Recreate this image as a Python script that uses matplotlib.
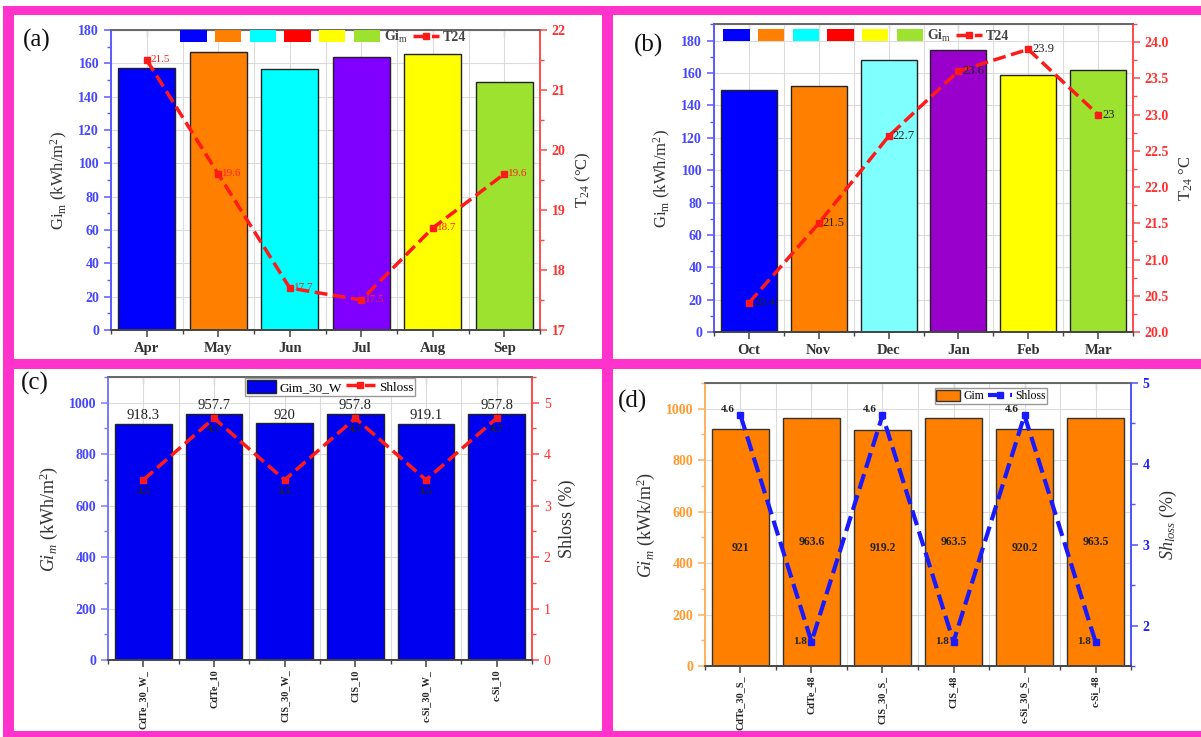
import matplotlib.pyplot as plt
from matplotlib.patches import Patch, Rectangle
from matplotlib.lines import Line2D
from matplotlib.ticker import MultipleLocator, FormatStrFormatter

plt.rcParams['font.family'] = 'Liberation Serif'
plt.rcParams['mathtext.fontset'] = 'custom'
plt.rcParams['mathtext.rm'] = 'Liberation Serif'
plt.rcParams['mathtext.it'] = 'Liberation Serif:italic'
plt.rcParams['mathtext.bf'] = 'Liberation Serif:bold'

# monthly irradiation and temperature, summer half
months_a = ['Apr', 'May', 'Jun', 'Jul', 'Aug', 'Sep']
gim_a = [156.9, 166.5, 156.3, 163.5, 165.7, 148.5]
t24_a = [21.5, 19.6, 17.7, 17.5, 18.7, 19.6]

# winter half
months_b = ['Oct', 'Nov', 'Dec', 'Jan', 'Feb', 'Mar']
gim_b = [149.5, 151.8, 168.0, 174.0, 158.8, 162.0]
t24_b = [20.4, 21.5, 22.7, 23.6, 23.9, 23.0]

# module comparison, W orientation
modules_c = ['CdTe_30_W_', 'CdTe_10', 'CIS_30_W_', 'CIS_10', 'c-Si_30_W_', 'c-Si_10']
gim_c = [918.3, 957.7, 920, 957.8, 919.1, 957.8]
shloss_c = [3.5, 4.7, 3.5, 4.7, 3.5, 4.7]

# module comparison, S orientation
modules_d = ['CdTe_30_S_', 'CdTe_48', 'CIS_30_S_', 'CIS_48', 'c-Si_30_S_', 'c-Si_48']
gim_d = [921, 963.6, 919.2, 963.5, 920.2, 963.5]
shloss_d = [4.6, 1.8, 4.6, 1.8, 4.6, 1.8]

colors_a = ['#0000ff', '#ff8000', '#00ffff', '#8000ff', '#ffff00', '#9de22f']
colors_b = ['#0000ff', '#ff8000', '#80ffff', '#9900cc', '#ffff00', '#9de22f']
legend_colors = ['#0000ff', '#ff8000', '#00ffff', '#ff0000', '#ffff00', '#9de22f']

W, H = 1201, 737
fig = plt.figure(figsize=(W / 100, H / 100), dpi=100)


def box(l, t, r, b):
    return [l / W, 1 - b / H, (r - l) / W, (b - t) / H]


def make_axes(rect, lcol, rcol, lspine, rspine):
    ax = fig.add_axes(rect)
    ax2 = ax.twinx()
    ax.set_axisbelow(True)
    ax.set_xlim(-0.5, 5.5)
    ax.set_xticks(range(6))
    ax.xaxis.set_minor_locator(MultipleLocator(0.5))
    ax.grid(True, which='major', color='#dcdcdc', lw=0.8)
    ax.grid(True, which='minor', axis='x', color='#dcdcdc', lw=0.8)
    for a in (ax, ax2):
        a.spines['left'].set_color(lspine)
        a.spines['right'].set_color(rspine)
        a.spines['top'].set_color('#666666')
        a.spines['bottom'].set_color('#444444')
        for s in a.spines.values():
            s.set_linewidth(1.2)
    ax.tick_params(axis='y', which='both', colors=lcol, direction='out')
    ax.tick_params(axis='y', which='major', length=5, width=1.1)
    ax.tick_params(axis='y', which='minor', length=3, width=1)
    ax.tick_params(axis='y', color=lspine, which='both')
    ax2.tick_params(axis='y', which='both', colors=rcol, direction='out')
    ax2.tick_params(axis='y', which='major', length=5, width=1.1)
    ax2.tick_params(axis='y', which='minor', length=3, width=1)
    ax2.tick_params(axis='y', color=rspine, which='both')
    ax.tick_params(axis='x', which='major', length=5, width=1.1, color='#444444')
    ax.tick_params(axis='x', which='minor', length=3, width=1, color='#444444')
    top = ax.secondary_xaxis('top')
    top.set_xticks(range(6))
    top.xaxis.set_minor_locator(MultipleLocator(0.5))
    top.tick_params(which='both', direction='in', labeltop=False, color='#444444')
    top.tick_params(which='major', length=5)
    top.tick_params(which='minor', length=3)
    top.spines['top'].set_color('#666666')
    return ax, ax2


def bold_ticks(ax, ax2):
    plt.setp(ax.get_yticklabels(), fontweight='bold')
    plt.setp(ax2.get_yticklabels(), fontweight='bold')
    plt.setp(ax.get_xticklabels(), fontweight='bold')


# ---- (a) ----
ax, ax2 = make_axes(box(111, 30, 540, 330), '#4646ff', '#ff3030', '#5a5aff', '#ff4a4a')
x = range(len(months_a))
ax.bar(x, gim_a, width=0.8, color=colors_a, edgecolor='#222222', lw=1)
ax.set_ylim(0, 180)
ax.yaxis.set_major_locator(MultipleLocator(20))
ax.yaxis.set_minor_locator(MultipleLocator(10))
ax.set_xticklabels(months_a, fontsize=10.5, color='#333333')
ax.tick_params(axis='y', labelsize=10)
ax.set_ylabel('Gi$_\\mathrm{m}$ (kWh/m$^2$)', fontsize=12, color='#333333', labelpad=6)
ax2.plot(x, t24_a, color='#ff1a1a', ls='--', lw=2.5, marker='s', ms=5)
for i, t in zip(x, t24_a):
    ax2.annotate(f'{t:g}', (i, t), xytext=(3, 0), textcoords='offset points',
                 ha='left', va='center', fontsize=8, color='#ff2020')
ax2.set_ylim(17, 22)
ax2.yaxis.set_major_locator(MultipleLocator(1))
ax2.yaxis.set_minor_locator(MultipleLocator(0.5))
ax2.tick_params(axis='y', labelsize=10)
ax2.set_ylabel('T$_{24}$ (°C)', fontsize=12, color='#333333', labelpad=6)
handles = [Patch(facecolor=c, edgecolor='none') for c in legend_colors]
handles.append(Line2D([], [], color='#ff1a1a', ls='--', lw=2.5, marker='s', ms=5))
labels = [''] * 5 + ['Gi$_\\mathrm{m}$', 'T24']
ax2.legend(handles, labels, ncol=7, loc='upper center', bbox_to_anchor=(323 / W, 1 - 29 / H),
           bbox_transform=fig.transFigure, frameon=False, handlelength=1.9,
           handleheight=1.0, handletextpad=0.25, columnspacing=0.35, borderpad=0.0,
           borderaxespad=0, labelcolor='#444444', prop={'weight': 'bold', 'size': 10})
bold_ticks(ax, ax2)

# ---- (b) ----
ax, ax2 = make_axes(box(714, 24, 1133, 332), '#4646ff', '#ff3030', '#5a5aff', '#ff4a4a')
x = range(len(months_b))
ax.bar(x, gim_b, width=0.8, color=colors_b, edgecolor='#222222', lw=1)
ax.set_ylim(0, 190.3)
ax.yaxis.set_major_locator(MultipleLocator(20))
ax.yaxis.set_minor_locator(MultipleLocator(10))
ax.set_xticklabels(months_b, fontsize=10.5, color='#333333')
ax.tick_params(axis='y', labelsize=10)
ax.set_ylabel('Gi$_\\mathrm{m}$ (kWh/m$^2$)', fontsize=12, color='#333333', labelpad=6)
ax2.plot(x, t24_b, color='#ff1a1a', ls='--', lw=2.5, marker='s', ms=5)
for i, t in zip(x, t24_b):
    ax2.annotate(f'{t:g}', (i, t), xytext=(3, 0), textcoords='offset points',
                 ha='left', va='center', fontsize=9, color='#222222')
ax2.set_ylim(20, 24.25)
ax2.yaxis.set_major_locator(MultipleLocator(0.5))
ax2.yaxis.set_minor_locator(MultipleLocator(0.25))
ax2.yaxis.set_major_formatter(FormatStrFormatter('%.1f'))
ax2.tick_params(axis='y', labelsize=10)
ax2.set_ylabel('T$_{24}$ °C', fontsize=12, color='#333333', labelpad=6)
handles = [Patch(facecolor=c, edgecolor='none') for c in legend_colors]
handles.append(Line2D([], [], color='#ff1a1a', ls='--', lw=2.5, marker='s', ms=5))
ax2.legend(handles, labels, ncol=7, loc='upper center', bbox_to_anchor=(866 / W, 1 - 28 / H),
           bbox_transform=fig.transFigure, frameon=False, handlelength=1.9,
           handleheight=1.0, handletextpad=0.25, columnspacing=0.35, borderpad=0.0,
           borderaxespad=0, labelcolor='#444444', prop={'weight': 'bold', 'size': 10})
bold_ticks(ax, ax2)

# ---- (c) ----
ax, ax2 = make_axes(box(108, 377, 532, 660), '#4646ff', '#ff3030', '#7a7aff', '#ff4a4a')
x = range(len(modules_c))
ax.bar(x, gim_c, width=0.8, color='#0000f0', edgecolor='#222222', lw=1)
for i, v in zip(x, gim_c):
    ax.annotate(f'{v:g}', (i, v), xytext=(0, 1), textcoords='offset points',
                ha='center', va='bottom', fontsize=10.5, color='#222222')
ax.set_ylim(0, 1100)
ax.yaxis.set_major_locator(MultipleLocator(200))
ax.yaxis.set_minor_locator(MultipleLocator(100))
ax.set_xticklabels(modules_c, rotation=90, fontsize=7.3, color='#222222')
ax.tick_params(axis='x', which='major', pad=2)
ax.tick_params(axis='y', labelsize=10)
ax.set_ylabel('$Gi_m$ (kWh/m$^2$)', fontsize=13, color='#333333', labelpad=6)
ax2.plot(x, shloss_c, color='#ff1a1a', ls='--', lw=2.5, marker='s', ms=5)
for i, s in zip(x, shloss_c):
    ax2.annotate(f'{s:g}', (i, s), xytext=(0, -5), textcoords='offset points',
                 ha='center', va='top', fontsize=8, fontweight='bold', color='#222222')
ax2.set_ylim(0, 5.5)
ax2.yaxis.set_major_locator(MultipleLocator(1))
ax2.yaxis.set_minor_locator(MultipleLocator(0.5))
ax2.tick_params(axis='y', labelsize=10)
ax2.set_ylabel('Shloss (%)', fontsize=13, color='#333333', labelpad=6)
ax2.legend([Patch(facecolor='#0000f0', edgecolor='#222222'),
            Line2D([], [], color='#ff1a1a', ls='--', lw=2.5, marker='s', ms=5)],
           ['Gim_30_W', 'Shloss'], ncol=2, loc='upper center',
           bbox_to_anchor=(330 / W, 1 - 378 / H), bbox_transform=fig.transFigure,
           fancybox=False, edgecolor='#999999', framealpha=1, fontsize=9.5,
           handlelength=2.2, handleheight=1.1, handletextpad=0.3, columnspacing=0.3,
           borderpad=0.15, borderaxespad=0)
plt.setp(ax.get_yticklabels(), fontweight='bold')
plt.setp(ax.get_xticklabels(), fontweight='bold')

# ---- (d) ----
ax, ax2 = make_axes(box(705, 383, 1131, 666), '#ff9a2e', '#2020ff', '#ffb060', '#5050ff')
x = range(len(modules_d))
ax.bar(x, gim_d, width=0.8, color='#ff8000', edgecolor='#333333', lw=1)
for i, v in zip(x, gim_d):
    ax.text(i, v / 2, f'{v:g}', ha='center', va='center', fontsize=8.5,
            fontweight='bold', color='#222222')
ax.set_ylim(0, 1100)
ax.yaxis.set_major_locator(MultipleLocator(200))
ax.yaxis.set_minor_locator(MultipleLocator(100))
ax.set_xticklabels(modules_d, rotation=90, fontsize=7.3, color='#222222')
ax.tick_params(axis='x', which='major', pad=2)
ax.tick_params(axis='y', labelsize=10)
ax.set_ylabel('$Gi_m$ (kWk/m$^2$)', fontsize=13, color='#333333', labelpad=6)
ax2.plot(x, shloss_d, color='#1a1aff', ls='--', lw=3, marker='s', ms=5)
for i, s in zip(x, shloss_d):
    if s > 3:
        ax2.annotate(f'{s:g}', (i, s), xytext=(-4, 1), textcoords='offset points',
                     ha='right', va='bottom', fontsize=8, fontweight='bold', color='#222222')
    else:
        ax2.annotate(f'{s:g}', (i, s), xytext=(-3, 0), textcoords='offset points',
                     ha='right', va='center', fontsize=8, fontweight='bold', color='#222222')
ax2.set_ylim(1.5, 5)
ax2.yaxis.set_major_locator(MultipleLocator(1))
ax2.yaxis.set_minor_locator(MultipleLocator(0.5))
ax2.tick_params(axis='y', labelsize=10)
ax2.set_ylabel('$Sh_{loss}$ (%)', fontsize=13, color='#333333', labelpad=6)
ax2.legend([Patch(facecolor='#ff8000', edgecolor='#333333'),
            Line2D([], [], color='#1a1aff', ls='--', lw=3, marker='s', ms=5)],
           ['Gim', 'Shloss'], ncol=2, loc='upper center',
           bbox_to_anchor=(991 / W, 1 - 388 / H), bbox_transform=fig.transFigure,
           fancybox=False, edgecolor='#999999', framealpha=1, fontsize=8.5,
           handlelength=2.0, handleheight=1.1, handletextpad=0.3, columnspacing=0.3,
           borderpad=0.15, borderaxespad=0)
bold_ticks(ax, ax2)

# panel letters
for lx, ly, s in [(23, 40, '(a)'), (634, 45, '(b)'), (21, 383, '(c)'), (618, 401, '(d)')]:
    fig.text(lx / W, 1 - ly / H, s, fontsize=18, ha='left', va='center', color='#111111')

# magenta frame
magenta = '#ff33cc'
for (x0, y0, x1, y1) in [(3, 6, 1201, 15), (3, 6, 14, 737), (602, 6, 613, 737),
                         (3, 359, 1201, 369), (3, 731, 1201, 737)]:
    fig.add_artist(Rectangle((x0 / W, 1 - y1 / H), (x1 - x0) / W, (y1 - y0) / H,
                             transform=fig.transFigure, color=magenta, lw=0, zorder=10))

fig.savefig('out.png', dpi=100)
